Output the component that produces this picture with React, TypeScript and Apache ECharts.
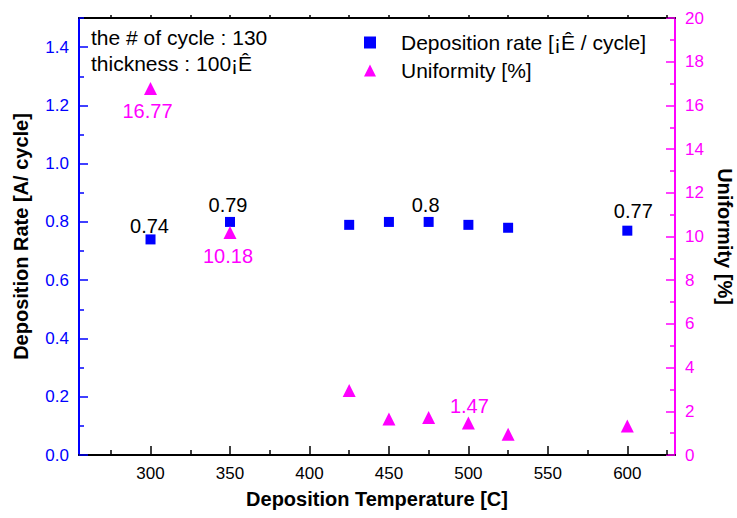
import React, { useEffect, useRef } from "react";
import * as echarts from "echarts";

const temps = [300, 350, 425, 450, 475, 500, 525, 600];
const rate = [0.74, 0.8, 0.79, 0.8, 0.8, 0.79, 0.78, 0.77];
const uniformity = [16.77, 10.18, 2.95, 1.65, 1.72, 1.47, 0.95, 1.33];
const rateLabels = ["0.74", "0.79", "", "", "0.8", "", "", "0.77"];
const uniLabels = ["16.77", "10.18", "", "", "", "1.47", "", ""];

const xTicks = [300, 350, 400, 450, 500, 550, 600];
const xMinorTicks = [275, 325, 375, 425, 475, 525, 575, 625];
const xTopTicks = [275, 300, 325, 350, 375, 400, 425, 450, 475, 500, 525, 550, 575, 600, 625];
const rateTicks = [0, 0.2, 0.4, 0.6, 0.8, 1.0, 1.2, 1.4];
const rateMinorTicks = [0.1, 0.3, 0.5, 0.7, 0.9, 1.1, 1.3, 1.5];

const rateName = "Deposition rate [¡Ê / cycle]";
const uniName = "Uniformity [%]";
const note1 = "the # of cycle : 130";
const note2 = "thickness : 100¡Ê";

const BLUE = "#0000ff";
const MAG = "#ff00ff";
const FONT = "'Liberation Sans', Arial, sans-serif";

const rateOffsets: Record<number, number[]> = { 0: [-1, -13], 1: [-2, -17], 4: [-3, -17], 7: [6, -20] };
const uniOffsets: Record<number, number[]> = { 0: [-3, 22], 1: [-2, 23], 5: [1, -17] };

export default function App() {
  const ref = useRef<HTMLDivElement>(null);
  useEffect(() => {
    if (!ref.current) return;
    const chart = echarts.init(ref.current, null, { renderer: "svg" });
    const rateData = temps.map((t, i) => ({
      value: [t, rate[i]],
      label: rateLabels[i]
        ? { show: true, formatter: rateLabels[i], position: "inside", offset: rateOffsets[i] || [0, -15], color: "#000", fontSize: 20, fontFamily: FONT }
        : { show: false },
    }));
    const uniData = temps.map((t, i) => ({
      value: [t, uniformity[i]],
      label: uniLabels[i]
        ? { show: true, formatter: uniLabels[i], position: "inside", offset: uniOffsets[i] || [0, 20], color: MAG, fontSize: 20, fontFamily: FONT }
        : { show: false },
    }));
    chart.setOption({
      animation: false,
      backgroundColor: "#fff",
      textStyle: { fontFamily: FONT },
      grid: { left: 79, right: 62, top: 18, bottom: 63, containLabel: false, outerBoundsMode: "none" },
      legend: {
        orient: "vertical",
        left: 359,
        top: 27,
        itemWidth: 12,
        itemHeight: 12,
        itemGap: 7,
        textStyle: { fontSize: 21, color: "#000", fontFamily: FONT, padding: [0, 0, 0, 20] },
        data: [
          { name: rateName, icon: "rect" },
          { name: uniName, icon: "triangle" },
        ],
      },
      graphic: [
        { type: "text", left: 91, top: 27, style: { text: note1, fontSize: 21, fill: "#000", fontFamily: FONT } },
        { type: "text", left: 91, top: 53, style: { text: note2, fontSize: 21, fill: "#000", fontFamily: FONT } },
      ],
      xAxis: [
        {
          type: "value",
          position: "bottom",
          min: 255,
          max: 630,
          axisLine: { show: true, onZero: false, lineStyle: { color: "#000", width: 2 } },
          axisTick: { show: true, inside: true, length: 9, customValues: xTicks, lineStyle: { color: "#000", width: 1.5 } },
          axisLabel: { show: true, customValues: xTicks, color: "#000", fontSize: 17, margin: 10, fontFamily: FONT },
          splitLine: { show: false },
          name: "Deposition Temperature [C]",
          nameLocation: "middle",
          nameGap: 34,
          nameTextStyle: { fontSize: 20, fontWeight: "bold", color: "#000", fontFamily: FONT },
        },
        {
          type: "value",
          position: "bottom",
          min: 255,
          max: 630,
          axisLine: { show: false, onZero: false },
          axisTick: { show: true, inside: true, length: 5, customValues: xMinorTicks, lineStyle: { color: "#000", width: 1.5 } },
          axisLabel: { show: false },
          splitLine: { show: false },
        },
        {
          type: "value",
          position: "top",
          min: 255,
          max: 630,
          axisLine: { show: true, onZero: false, lineStyle: { color: "#000", width: 2 } },
          axisTick: { show: true, inside: false, length: 3, customValues: xTopTicks, lineStyle: { color: "#000", width: 1.5 } },
          axisLabel: { show: false },
          splitLine: { show: false },
        },
      ],
      yAxis: [
        {
          type: "value",
          position: "left",
          min: 0,
          max: 1.5,
          axisLine: { show: true, onZero: false, lineStyle: { color: BLUE, width: 2 } },
          axisTick: { show: true, inside: true, length: 9, customValues: rateTicks, lineStyle: { color: BLUE, width: 1.5 } },
          axisLabel: { show: true, customValues: rateTicks, color: BLUE, fontSize: 17, margin: 10, fontFamily: FONT, formatter: (v: number) => v.toFixed(1) },
          splitLine: { show: false },
          name: "Deposition Rate [A/ cycle]",
          nameLocation: "middle",
          nameGap: 48,
          nameTextStyle: { fontSize: 20, fontWeight: "bold", color: "#000", fontFamily: FONT },
        },
        {
          type: "value",
          position: "right",
          min: 0,
          max: 20,
          interval: 2,
          axisLine: { show: true, onZero: false, lineStyle: { color: MAG, width: 2 } },
          axisTick: { show: true, inside: true, length: 9, lineStyle: { color: MAG, width: 1.5 } },
          minorTick: { show: true, splitNumber: 2, length: 5, lineStyle: { color: MAG, width: 1.5 } },
          axisLabel: { show: true, color: MAG, fontSize: 17, margin: 10, fontFamily: FONT },
          splitLine: { show: false },
          name: "Uniformity [%]",
          nameLocation: "middle",
          nameGap: 40,
          nameRotate: -90,
          nameTextStyle: { fontSize: 20, fontWeight: "bold", color: "#000", fontFamily: FONT },
        },
        {
          type: "value",
          position: "left",
          min: 0,
          max: 1.5,
          axisLine: { show: false, onZero: false },
          axisTick: { show: true, inside: true, length: 5, customValues: rateMinorTicks, lineStyle: { color: BLUE, width: 1.5 } },
          axisLabel: { show: false },
          splitLine: { show: false },
        },
      ],
      series: [
        {
          name: rateName,
          type: "scatter",
          xAxisIndex: 0,
          yAxisIndex: 0,
          symbol: "rect",
          symbolSize: 10,
          itemStyle: { color: BLUE, opacity: 1 },
          data: rateData,
        },
        {
          name: uniName,
          type: "scatter",
          xAxisIndex: 0,
          yAxisIndex: 1,
          symbol: "triangle",
          symbolSize: 13,
          itemStyle: { color: MAG, opacity: 1 },
          data: uniData,
        },
      ],
    });
    return () => chart.dispose();
  }, []);
  return <div ref={ref} style={{ position: "absolute", left: 0, top: 0, width: 737, height: 518 }} />;
}
